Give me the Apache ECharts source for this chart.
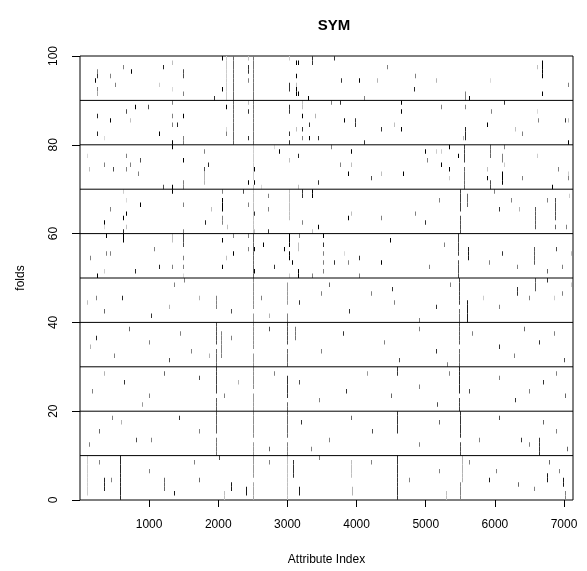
<!DOCTYPE html>
<html><head><meta charset="utf-8">
<script src="https://cdn.jsdelivr.net/npm/echarts@6/dist/echarts.min.js"></script>
<style>html,body{margin:0;padding:0;background:#fff}#c{width:587px;height:571px}</style>
</head><body><div id="c"></div>
<script>
const chartTitle = 'SYM';
const xName = 'Attribute Index';
const yName = 'folds';
const xTicks = [1000, 2000, 3000, 4000, 5000, 6000, 7000];
const yTicks = [0, 20, 40, 60, 80, 100];
const blockLines = [10, 20, 30, 40, 50, 60, 70, 80, 90];
const nAttributes = 7129;
const nFolds = 100;

// selected attributes: [attribute index, first fold, last fold, intensity 0..1]
const folds91to100 = [
  [1333,99,99,.25],[2056,100,100,1],[2114,91,100,.2],[2215,81,100,.6],[625,98,98,.5],[1203,98,98,.85],
  [249,97,97,.5],[740,97,97,1],[1492,96,97,.7],[249,96,96,.8],[442,96,96,.5],[225,95,95,1],[514,94,94,.5],
  [1145,94,94,.2],[249,93,93,.5],[1333,93,93,.15],[2056,93,93,1],[249,92,92,.35],[1492,92,92,.5],[1940,91,91,.8],
  [2441,100,100,.25],[2441,97,98,.8],[2441,95,95,.5],[2503,81,100,.55],[3024,100,100,.2],[3125,99,99,1],
  [3163,99,99,1],[3356,99,100,.8],[3674,100,100,.8],[4445,98,98,.5],[3125,96,96,1],[3780,95,95,.8],
  [4036,95,95,1],[4310,95,95,.3],[3024,93,94,.8],[3125,94,94,.25],[3125,92,93,1],[3154,92,92,1],
  [3308,91,91,1],[4122,91,91,.5],[4852,96,96,.5],[4840,93,93,.85],
  [6695,96,99,1],[6623,98,98,.25],[5163,95,95,.3],[5944,95,95,.15],[7071,94,94,.5],[5582,91,92,.5],
  [5640,91,91,1],[6695,92,92,1]
];
const folds81to90 = [
  [1333,90,90,.5],[798,89,89,1],[986,89,89,.7],[2118,89,89,1],[668,88,88,.7],[249,87,87,.85],[1333,87,87,.5],
  [1492,87,87,1],[442,86,86,1],[726,86,86,.25],[1333,85,85,.5],[1405,85,85,.85],[2114,84,84,.15],[249,83,83,.85],
  [1145,83,83,1],[2114,83,83,.5],[350,82,82,.15],[1492,81,82,.5],[1333,80,81,1],
  [2441,90,90,.25],[2441,88,88,.8],[3024,88,89,.8],[3024,83,83,.8],[3212,89,90,.25],[3212,87,87,1],
  [3212,84,84,.8],[3645,90,90,.5],[3766,90,90,.8],[4643,90,90,1],[4643,88,88,1],[4643,84,84,1],
  [3400,87,87,.3],[3313,85,85,.8],[3819,86,86,1],[3978,85,86,.8],[4556,85,85,.25],[4368,84,84,.8],
  [3125,84,84,.25],[2441,82,82,.8],[3212,82,82,.5],[3313,82,82,1],[3457,82,82,.8],[3024,81,81,.8],[4122,81,81,.8],
  [5235,89,89,.5],[6146,90,90,.8],[5582,89,89,.5],[5958,88,88,.5],[6623,88,88,.15],[5900,85,85,1],
  [6637,86,86,.5],[7028,86,86,.8],[7071,86,86,.25],[6305,84,84,.25],[6406,83,83,.5],[5582,82,84,.85],
  [5553,82,82,.3],[7071,81,81,1]
];
const folds71to80 = [
  [1796,79,79,.5],[1796,75,75,.7],[1796,72,74,.3],[104,78,78,.15],[668,78,78,.5],[870,77,77,.7],
  [1492,77,77,1],[350,76,76,.5],[726,76,76,.5],[1853,76,76,.85],[138,75,75,.25],[480,75,75,.7],
  [668,75,75,.5],[842,74,74,.5],[1492,71,72,.5],[1203,71,71,.7],[1333,70,71,1],
  [2503,73,80,.2],[2503,61,71,.25],[2817,80,80,.15],[2879,79,79,1],[3645,80,80,.5],[3920,79,79,1],[4990,79,79,1],
  [3154,78,78,.85],[3024,77,77,.25],[5032,77,77,.5],[3766,76,76,.5],[3934,76,76,.25],[2518,75,75,1],
  [3877,74,74,1],[4368,74,74,.25],[4686,74,74,1],[4209,73,73,.7],[2441,72,72,1],[2518,72,72,1],
  [3457,72,72,.8],[2624,71,71,.15],[3154,71,71,.25],
  [5149,79,79,.2],[5235,79,79,.2],[5351,80,80,1],[5560,77,80,.75],[5560,71,75,.6],[5944,78,80,.6],[6146,80,80,.5],
  [5481,78,78,1],[6117,77,78,.5],[6623,78,78,.2],[5235,76,76,1],[5351,75,75,1],[5900,75,75,.25],
  [6146,76,76,.2],[6926,75,75,.5],[6117,72,74,1],[5351,73,73,.2],[5900,73,73,1],[5944,71,72,.7],
  [6406,73,73,.5],[7071,74,74,.2],[7071,73,73,.5],[6840,71,71,1]
];
const folds61to70 = [
  [625,70,70,.2],[2056,70,70,.5],[2359,70,70,.7],[668,68,68,.15],[2056,66,68,1],[870,67,67,1],
  [1492,67,67,.5],[442,66,66,.5],[1897,66,66,.25],[668,65,65,1],[625,64,64,1],[2056,63,64,.5],
  [350,63,63,1],[1810,63,63,.85],[350,62,62,.15],[668,62,62,.25],[2128,62,62,.25],[625,61,61,.85],[1492,61,61,.5],
  [2720,69,69,.5],[3024,64,70,.25],[3212,69,70,.8],[3356,69,70,1],[2441,67,67,.5],[2720,66,66,.5],
  [2518,65,65,.8],[3934,65,65,.25],[3877,64,64,1],[4368,64,64,.5],[3212,63,63,.5],[3457,62,62,1],
  [2518,61,61,.25],[3356,61,61,.25],[2720,61,61,.8],
  [5202,68,68,.5],[5505,66,70,.75],[5505,61,64,.7],[5606,67,69,.6],[5997,70,70,.5],[6069,66,66,.8],[6243,68,68,.5],
  [6358,66,66,.3],[6589,62,66,.65],[6763,68,68,.5],[6879,64,68,.7],[6879,62,62,.6],[7037,62,62,.5],[7081,69,69,.2],
  [4850,65,65,.5],[4990,63,63,.8]
];
const folds51to60 = [
  [379,60,60,1],[625,59,60,1],[1333,59,60,.25],[1492,58,60,.7],[2056,59,59,1],[2215,60,60,.5],
  [1073,57,57,.5],[379,56,56,.5],[437,56,56,.5],[2215,56,56,1],[148,55,55,.5],[1492,55,55,.5],
  [2114,55,55,.25],[1145,53,53,.85],[1333,53,53,.5],[1492,53,53,.5],[2056,53,53,1],[350,52,52,.2],
  [798,52,52,.85],[249,51,51,1],[1492,51,51,.15],
  [2503,51,60,.6],[2441,60,60,.5],[3024,58,60,1],[3024,55,56,1],[3024,51,51,.2],[3169,60,60,.5],
  [3154,57,58,.25],[3515,60,60,1],[3515,58,58,.8],[3515,56,56,.5],[3515,54,54,.5],[3515,52,52,.5],
  [4484,59,59,1],[2648,58,58,1],[2441,57,57,.5],[2528,57,57,1],[2952,57,57,1],[3819,56,56,.15],
  [3067,54,54,1],[3674,54,54,.8],[3877,54,54,.5],[4036,55,55,.8],[4368,54,54,1],[2807,53,53,.8],
  [2528,52,52,1],[3154,51,52,1],[3356,51,51,.5],[4036,51,51,.5],
  [5475,56,60,.75],[5475,51,54,.7],[5620,55,57,.9],[5057,53,53,.5],[5275,58,58,.5],[5925,54,54,.5],[6113,56,56,.8],
  [6330,53,53,.5],[6570,54,57,.65],[6760,52,52,.6],[6890,57,57,.7],[6980,53,53,.5],[7110,56,56,.25]
];
const folds41to50 = [
  [114,45,45,.25],[244,46,46,.5],[616,46,46,.85],[1039,42,42,.8],[1372,49,49,.5],[1516,50,50,.5],
  [1979,44,46,.5],[2196,43,43,.7],[2503,44,50,.45],[2503,41,42,.4],[2629,46,46,.5],[3004,45,49,.4],[3004,41,42,.5],[3178,45,45,.8],
  [3496,47,47,.5],[3901,43,43,.8],[4219,47,47,.5],[4522,48,48,.8],[4551,45,45,.5],[5158,44,44,.8],
  [5361,49,49,.5],[5491,45,50,.75],[5491,41,43,.6],[5606,41,45,.9],[5838,46,46,.2],[6070,44,44,.5],[6329,47,48,.8],
  [6502,46,46,.5],[6589,48,50,.65],[6763,50,50,.8],[6864,46,46,.2],[6980,47,47,.5],[7110,49,49,.2],
  [1733,46,46,.3],[3611,49,49,.6],[4913,41,41,.5],[2745,42,42,.3],[360,43,43,.6],[1300,44,44,.3]
];
const folds31to40 = [
  [244,37,37,.85],[504,33,33,.5],[721,39,39,.6],[1010,36,36,.5],[1299,32,32,.7],[1617,34,34,.5],
  [1877,33,33,.3],[1979,36,40,.7],[1979,31,34,.6],[2051,33,38,.5],[2196,37,37,.5],[2503,35,40,.45],[2503,31,33,.4],[2745,39,39,.7],
  [3004,36,40,.7],[3004,31,34,.6],[3120,37,39,.55],[3496,34,34,.5],[3814,38,38,.8],[4407,36,36,.5],[4624,32,32,.7],
  [4913,39,39,.5],[5158,34,34,.8],[5317,31,31,.5],[5491,36,40,.65],[5491,31,34,.6],[5678,38,38,.5],[6070,35,35,.8],
  [6286,33,33,.5],[6430,39,39,.6],[6647,36,36,.8],[6864,38,38,.5],[7008,32,32,.7],[150,35,35,.3],[1450,38,38,.5]
];
const folds21to30 = [
  [186,25,25,.5],[360,29,29,.3],[649,27,27,.8],[1010,24,24,.5],[1227,29,29,.6],[1733,28,28,.7],
  [1979,25,30,.75],[1979,21,23,.65],[2094,24,24,.5],[2503,26,30,.45],[2503,21,24,.4],[2817,29,29,.5],[3004,24,28,.8],[3004,21,22,.6],[3178,27,27,.7],
  [3467,23,23,.5],[3857,25,25,.8],[4161,29,29,.4],[4508,24,24,.6],[4595,29,30,.8],[4913,26,26,.5],
  [5173,22,22,.7],[5346,29,29,.5],[5491,25,30,.85],[5491,21,23,.75],[5635,25,25,.7],[6070,28,28,.5],[6300,23,23,.8],
  [6502,25,25,.5],[6705,27,27,.8],[6893,29,29,.5],[7023,24,24,.6],[900,22,22,.4],[2300,27,27,.3]
];
const folds11to20 = [
  [143,13,13,.5],[288,16,16,.6],[475,19,19,.5],[822,14,14,.7],[1039,14,14,.5],[1444,19,19,.8],
  [1733,16,16,.5],[1979,16,20,.65],[1979,11,14,.55],[2503,15,20,.45],[2503,11,13,.4],[2745,12,12,.6],[3004,15,20,.6],[3004,11,13,.5],[3207,18,18,.8],
  [3611,14,14,.5],[3930,19,19,.6],[4233,16,16,.7],[4595,16,20,.8],[4913,13,13,.5],[5202,18,18,.6],
  [5505,15,20,.8],[5505,11,13,.7],[5780,14,14,.5],[6070,19,19,.7],[6387,14,14,.8],[6502,13,13,.5],[6647,11,14,.8],
  [6705,18,18,.6],[6893,16,16,.5],[7052,12,12,.6],[600,18,18,.3],[3350,12,12,.5]
];
const folds1to10 = [
  [114,2,10,.2],[288,9,9,.5],[360,3,5,.85],[461,5,5,.5],[591,1,10,.85],[1010,7,7,.5],[1227,3,5,.6],
  [1372,2,2,.9],[1661,9,9,.5],[1733,5,5,.6],[2023,10,10,.7],[2196,3,4,.9],[2094,1,2,.25],[2408,2,3,.9],
  [2503,6,10,.4],[2503,1,4,.35],[2745,9,9,.5],[3004,1,10,.25],[3091,6,9,.8],[3178,2,3,.9],[3467,10,10,.5],
  [3944,2,3,.3],[3930,6,9,.25],[4219,9,9,.5],[4595,1,10,.8],[4768,5,5,.5],[5202,7,7,.5],
  [5298,1,2,.25],[5538,5,10,.3],[5505,1,4,.5],[5635,9,9,.5],[5925,5,5,.9],[6026,7,7,.5],
  [6343,4,4,.6],[6575,3,3,.5],[6763,5,6,.9],[6792,9,9,.6],[6998,4,5,.9],[7023,1,2,.5],[6936,7,7,.5]
];

const blocks = [folds1to10, folds11to20, folds21to30, folds31to40, folds41to50,
                folds51to60, folds61to70, folds71to80, folds81to90, folds91to100];
const cells = [];
blocks.forEach(function (b) {
  b.forEach(function (m) {
    for (let f = m[1]; f <= m[2]; f++) cells.push([m[0], f, m[3]]);
  });
});

const FONT = '"Liberation Sans", Arial, Helvetica, sans-serif';
const chart = echarts.init(document.getElementById('c'), null, {renderer: 'canvas'});
chart.setOption({
  animation: false,
  backgroundColor: '#fff',
  title: {
    text: chartTitle, left: 329, top: 13, textAlign: 'center',
    textStyle: {fontFamily: FONT, fontSize: 15, fontWeight: 'bold', color: '#000'}
  },
  grid: {left: 80, top: 56, width: 493, height: 445, show: true, borderColor: '#000', borderWidth: 1, backgroundColor: 'transparent'},
  xAxis: {
    type: 'value', min: 0.5, max: nAttributes + 0.5,
    axisLine: {show: false}, splitLine: {show: false},
    axisTick: {show: true, customValues: xTicks, length: 7, lineStyle: {color: '#000', width: 1}},
    axisLabel: {customValues: xTicks, margin: 19, fontFamily: FONT, fontSize: 12, color: '#000',
                formatter: function (v) { return String(v); }},
    name: xName, nameLocation: 'middle', nameGap: 54,
    nameTextStyle: {fontFamily: FONT, fontSize: 12, color: '#000'}
  },
  yAxis: {
    type: 'value', min: 0, max: nFolds,
    axisLine: {show: false}, splitLine: {show: false},
    axisTick: {show: true, customValues: yTicks, length: 8, lineStyle: {color: '#000', width: 1}},
    axisLabel: {customValues: yTicks, rotate: 90, margin: 20, fontFamily: FONT, fontSize: 12, color: '#000',
                formatter: function (v) { return String(v); }},
    name: yName, nameLocation: 'middle', nameRotate: 90, nameGap: 53,
    nameTextStyle: {fontFamily: FONT, fontSize: 12, color: '#000'}
  },
  series: [
    {
      type: 'custom', clip: true, data: cells,
      renderItem: function (params, api) {
        const a = api.value(0), f = api.value(1), v = api.value(2);
        const p0 = api.coord([a - 0.5, f - 1]);
        const p1 = api.coord([a + 0.5, f]);
        const g = Math.round(255 * (1 - v));
        return {
          type: 'rect',
          shape: {x: Math.floor(p0[0]), y: p1[1], width: 1, height: p0[1] - p1[1]},
          style: {fill: 'rgb(' + g + ',' + g + ',' + g + ')'}
        };
      }
    },
    {
      type: 'custom', clip: true, data: blockLines.map(function (y) { return [y]; }),
      renderItem: function (params, api) {
        const y = api.value(0);
        const a = api.coord([0.5, y]);
        const b = api.coord([nAttributes + 0.5, y]);
        return {type: 'line', shape: {x1: a[0], y1: a[1], x2: b[0], y2: b[1]},
                style: {stroke: '#000', lineWidth: 1}};
      }
    }
  ]
});
</script>
</body></html>
